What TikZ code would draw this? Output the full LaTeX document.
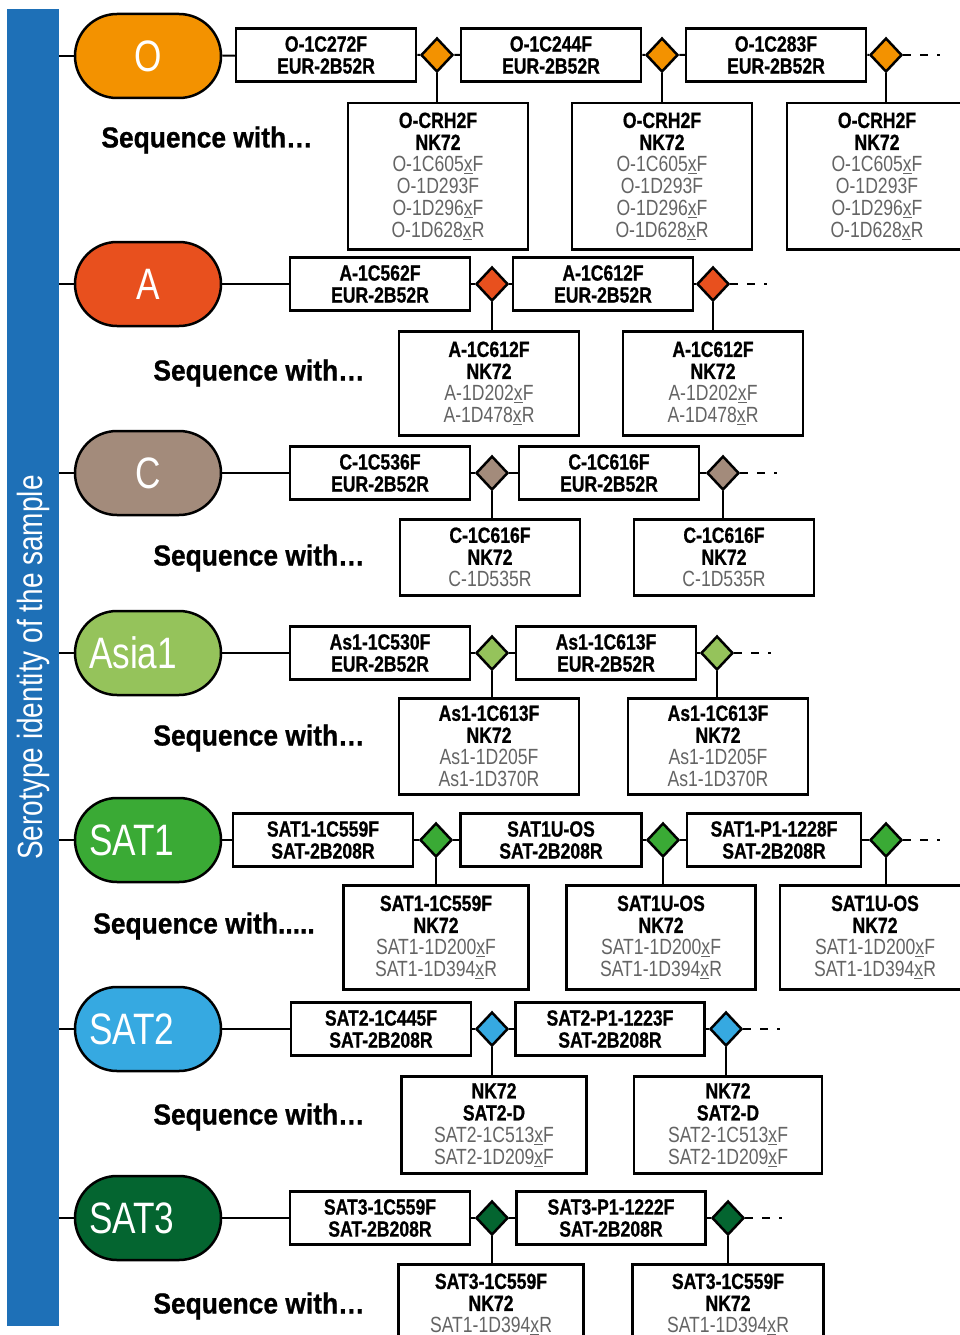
\documentclass[tikz,border=0pt]{standalone}
\usepackage{fontspec}
\setmainfont{Liberation Sans}
\newfontfamily\condfont{Liberation Sans}[FakeStretch=0.8, BoldFeatures={FakeBold=0.8}]
\newfontfamily\leyfont{Liberation Sans}[FakeStretch=0.91, BoldFeatures={FakeBold=0.8}]
\usetikzlibrary{shapes.geometric}

\definecolor{azulbarra}{RGB}{30,112,183}
\definecolor{colO}{RGB}{243,146,0}
\definecolor{colA}{RGB}{232,80,30}
\definecolor{colC}{RGB}{163,139,123}
\definecolor{colAsia}{RGB}{149,195,91}
\definecolor{colSATa}{RGB}{58,170,53}
\definecolor{colSATb}{RGB}{54,169,225}
\definecolor{colSATc}{RGB}{4,101,48}
\definecolor{gris}{RGB}{100,100,100}

\newcommand{\ux}{\underline{x}}
\newcommand{\fuerte}[1]{\textcolor{black}{\bfseries #1}}

\tikzset{
  serotipo/.style={rectangle, rounded corners=42pt, draw, line width=2.5pt, minimum width=146pt, minimum height=84pt, inner sep=0pt, text=white, font=\condfont\fontsize{44}{44}\selectfont},
  serolargo/.style={text width=118pt, align=left, inner xsep=14pt},
  cebador/.style={rectangle, draw, line width=2.5pt, minimum width=180pt, minimum height=53pt, inner sep=0pt, align=center, font=\condfont\bfseries\fontsize{22}{22}\selectfont},
  union/.style={diamond, draw, line width=2.5pt, minimum width=32pt, minimum height=34pt, inner sep=0pt},
  sonda/.style={rectangle, draw, line width=2.5pt, anchor=north, minimum width=180pt, inner sep=0pt, align=center, text=gris, font=\condfont\fontsize{22}{22}\selectfont},
  leyenda/.style={font=\leyfont\bfseries\fontsize{29}{29}\selectfont},
  linea/.style={line width=2pt},
  sigue/.style={line width=2pt, dash pattern=on 8pt off 9pt}
}

\begin{document}
\begin{tikzpicture}[x=1pt, y=-1pt]
    \useasboundingbox (0,0) rectangle (960,1335);
    \clip (0,0) rectangle (960,1335);

    % Barra lateral
    \node[rectangle, fill=azulbarra, minimum width=1317pt, minimum height=52pt, inner sep=0pt, rotate=90, text=white, font=\condfont\fontsize{35}{35}\selectfont] (barra) at (33,667.5) {Serotype identity of the sample};

    % Serotipo O
    \node[serotipo, fill=colO] (O) at (148,56) {O};
    \node[cebador] (pO1) at (326,55) {O-1C272F\\EUR-2B52R};
    \node[union, fill=colO] (dO1) at (437,55) {};
    \node[cebador] (pO2) at (551,55) {O-1C244F\\EUR-2B52R};
    \node[union, fill=colO] (dO2) at (662,55) {};
    \node[cebador] (pO3) at (776,55) {O-1C283F\\EUR-2B52R};
    \node[union, fill=colO] (dO3) at (886,55) {};
    \coordinate (fO) at (940,55);
    \node[sonda, minimum height=146pt] (qO1) at (438,102) {\fuerte{O-CRH2F}\\\fuerte{NK72}\\O-1C605\ux F\\O-1D293F\\O-1D296\ux F\\O-1D628\ux R};
    \node[sonda, minimum height=146pt] (qO2) at (662,102) {\fuerte{O-CRH2F}\\\fuerte{NK72}\\O-1C605\ux F\\O-1D293F\\O-1D296\ux F\\O-1D628\ux R};
    \node[sonda, minimum height=146pt] (qO3) at (877,102) {\fuerte{O-CRH2F}\\\fuerte{NK72}\\O-1C605\ux F\\O-1D293F\\O-1D296\ux F\\O-1D628\ux R};
    \node[leyenda] (sO) at (207,140) {Sequence with…};
    \draw[linea] (O.west -| barra.south) -- (O.west);
    \draw[linea] (O) -- (pO1) -- (dO1) -- (pO2) -- (dO2) -- (pO3) -- (dO3);
    \draw[sigue] (dO3.east) -- (fO);
    \draw[linea] (dO1.south) -- (qO1.north -| dO1.south);
    \draw[linea] (dO2.south) -- (qO2.north -| dO2.south);
    \draw[linea] (dO3.south) -- (qO3.north -| dO3.south);

    % Serotipo A
    \node[serotipo, fill=colA] (A) at (148,284) {A};
    \node[cebador] (pA1) at (380,284) {A-1C562F\\EUR-2B52R};
    \node[union, fill=colA] (dA1) at (492,284) {};
    \node[cebador] (pA2) at (603,284) {A-1C612F\\EUR-2B52R};
    \node[union, fill=colA] (dA2) at (713,284) {};
    \coordinate (fA) at (767,284);
    \node[sonda, minimum height=104pt] (qA1) at (489,330) {\fuerte{A-1C612F}\\\fuerte{NK72}\\A-1D202\ux F\\A-1D478\ux R};
    \node[sonda, minimum height=104pt] (qA2) at (713,330) {\fuerte{A-1C612F}\\\fuerte{NK72}\\A-1D202\ux F\\A-1D478\ux R};
    \node[leyenda] (sA) at (259,373) {Sequence with…};
    \draw[linea] (A.west -| barra.south) -- (A.west);
    \draw[linea] (A) -- (pA1) -- (dA1) -- (pA2) -- (dA2);
    \draw[sigue] (dA2.east) -- (fA);
    \draw[linea] (dA1.south) -- (qA1.north -| dA1.south);
    \draw[linea] (dA2.south) -- (qA2.north -| dA2.south);

    % Serotipo C
    \node[serotipo, fill=colC] (C) at (148,473) {C};
    \node[cebador] (pC1) at (380,473) {C-1C536F\\EUR-2B52R};
    \node[union, fill=colC] (dC1) at (492,473) {};
    \node[cebador] (pC2) at (609,473) {C-1C616F\\EUR-2B52R};
    \node[union, fill=colC] (dC2) at (723,473) {};
    \coordinate (fC) at (777,473);
    \node[sonda, minimum height=76pt] (qC1) at (490,518) {\fuerte{C-1C616F}\\\fuerte{NK72}\\C-1D535R};
    \node[sonda, minimum height=76pt] (qC2) at (724,518) {\fuerte{C-1C616F}\\\fuerte{NK72}\\C-1D535R};
    \node[leyenda] (sC) at (259,558) {Sequence with…};
    \draw[linea] (C.west -| barra.south) -- (C.west);
    \draw[linea] (C) -- (pC1) -- (dC1) -- (pC2) -- (dC2);
    \draw[sigue] (dC2.east) -- (fC);
    \draw[linea] (dC1.south) -- (qC1.north -| dC1.south);
    \draw[linea] (dC2.south) -- (qC2.north -| dC2.south);

    % Serotipo Asia1
    \node[serotipo, serolargo, fill=colAsia] (Asia) at (148,653) {Asia1};
    \node[cebador] (pAs1) at (380,653) {As1-1C530F\\EUR-2B52R};
    \node[union, fill=colAsia] (dAs1) at (492,653) {};
    \node[cebador] (pAs2) at (606,653) {As1-1C613F\\EUR-2B52R};
    \node[union, fill=colAsia] (dAs2) at (717,653) {};
    \coordinate (fAs) at (771,653);
    \node[sonda, minimum height=96pt] (qAs1) at (489,697) {\fuerte{As1-1C613F}\\\fuerte{NK72}\\As1-1D205F\\As1-1D370R};
    \node[sonda, minimum height=96pt] (qAs2) at (718,697) {\fuerte{As1-1C613F}\\\fuerte{NK72}\\As1-1D205F\\As1-1D370R};
    \node[leyenda] (sAs) at (259,738) {Sequence with…};
    \draw[linea] (Asia.west -| barra.south) -- (Asia.west);
    \draw[linea] (Asia) -- (pAs1) -- (dAs1) -- (pAs2) -- (dAs2);
    \draw[sigue] (dAs2.east) -- (fAs);
    \draw[linea] (dAs1.south) -- (qAs1.north -| dAs1.south);
    \draw[linea] (dAs2.south) -- (qAs2.north -| dAs2.south);

    % Serotipo SAT1
    \node[serotipo, serolargo, fill=colSATa] (SATa) at (148,840) {SAT1};
    \node[cebador] (pSa1) at (323,840) {SAT1-1C559F\\SAT-2B208R};
    \node[union, fill=colSATa] (dSa1) at (436,840) {};
    \node[cebador, minimum width=181pt] (pSa2) at (551,840) {SAT1U-OS\\SAT-2B208R};
    \node[union, fill=colSATa] (dSa2) at (663,840) {};
    \node[cebador, minimum width=174pt] (pSa3) at (774,840) {SAT1-P1-1228F\\SAT-2B208R};
    \node[union, fill=colSATa] (dSa3) at (886,840) {};
    \coordinate (fSa) at (940,840);
    \node[sonda, minimum width=185pt, minimum height=104pt] (qSa1) at (436,884) {\fuerte{SAT1-1C559F}\\\fuerte{NK72}\\SAT1-1D200\ux F\\SAT1-1D394\ux R};
    \node[sonda, minimum width=189pt, minimum height=104pt] (qSa2) at (661,884) {\fuerte{SAT1U-OS}\\\fuerte{NK72}\\SAT1-1D200\ux F\\SAT1-1D394\ux R};
    \node[sonda, minimum width=190pt, minimum height=104pt] (qSa3) at (875,884) {\fuerte{SAT1U-OS}\\\fuerte{NK72}\\SAT1-1D200\ux F\\SAT1-1D394\ux R};
    \node[leyenda] (sSa) at (204,926) {Sequence with.....};
    \draw[linea] (SATa.west -| barra.south) -- (SATa.west);
    \draw[linea] (SATa) -- (pSa1) -- (dSa1) -- (pSa2) -- (dSa2) -- (pSa3) -- (dSa3);
    \draw[sigue] (dSa3.east) -- (fSa);
    \draw[linea] (dSa1.south) -- (qSa1.north -| dSa1.south);
    \draw[linea] (dSa2.south) -- (qSa2.north -| dSa2.south);
    \draw[linea] (dSa3.south) -- (qSa3.north -| dSa3.south);

    % Serotipo SAT2
    \node[serotipo, serolargo, fill=colSATb] (SATb) at (148,1029) {SAT2};
    \node[cebador] (pSb1) at (381,1029) {SAT2-1C445F\\SAT-2B208R};
    \node[union, fill=colSATb] (dSb1) at (492,1029) {};
    \node[cebador, minimum width=189pt] (pSb2) at (610,1029) {SAT2-P1-1223F\\SAT-2B208R};
    \node[union, fill=colSATb] (dSb2) at (726,1029) {};
    \coordinate (fSb) at (780,1029);
    \node[sonda, minimum width=185pt, minimum height=97pt] (qSb1) at (494,1075) {\fuerte{NK72}\\\fuerte{SAT2-D}\\SAT2-1C513\ux F\\SAT2-1D209\ux F};
    \node[sonda, minimum width=188pt, minimum height=97pt] (qSb2) at (728,1075) {\fuerte{NK72}\\\fuerte{SAT2-D}\\SAT2-1C513\ux F\\SAT2-1D209\ux F};
    \node[leyenda] (sSb) at (259,1117) {Sequence with…};
    \draw[linea] (SATb.west -| barra.south) -- (SATb.west);
    \draw[linea] (SATb) -- (pSb1) -- (dSb1) -- (pSb2) -- (dSb2);
    \draw[sigue] (dSb2.east) -- (fSb);
    \draw[linea] (dSb1.south) -- (qSb1.north -| dSb1.south);
    \draw[linea] (dSb2.south) -- (qSb2.north -| dSb2.south);

    % Serotipo SAT3
    \node[serotipo, serolargo, fill=colSATc] (SATc) at (148,1218) {SAT3};
    \node[cebador] (pSc1) at (380,1218) {SAT3-1C559F\\SAT-2B208R};
    \node[union, fill=colSATc] (dSc1) at (492,1218) {};
    \node[cebador, minimum width=189pt] (pSc2) at (611,1218) {SAT3-P1-1222F\\SAT-2B208R};
    \node[union, fill=colSATc] (dSc2) at (728,1218) {};
    \coordinate (fSc) at (782,1218);
    \node[sonda, minimum width=185pt, minimum height=80pt] (qSc1) at (491,1263) {\fuerte{SAT3-1C559F}\\\fuerte{NK72}\\SAT1-1D394\ux R};
    \node[sonda, minimum width=191pt, minimum height=80pt] (qSc2) at (728,1263) {\fuerte{SAT3-1C559F}\\\fuerte{NK72}\\SAT1-1D394\ux R};
    \node[leyenda] (sSc) at (259,1306) {Sequence with…};
    \draw[linea] (SATc.west -| barra.south) -- (SATc.west);
    \draw[linea] (SATc) -- (pSc1) -- (dSc1) -- (pSc2) -- (dSc2);
    \draw[sigue] (dSc2.east) -- (fSc);
    \draw[linea] (dSc1.south) -- (qSc1.north -| dSc1.south);
    \draw[linea] (dSc2.south) -- (qSc2.north -| dSc2.south);
\end{tikzpicture}
\end{document}
